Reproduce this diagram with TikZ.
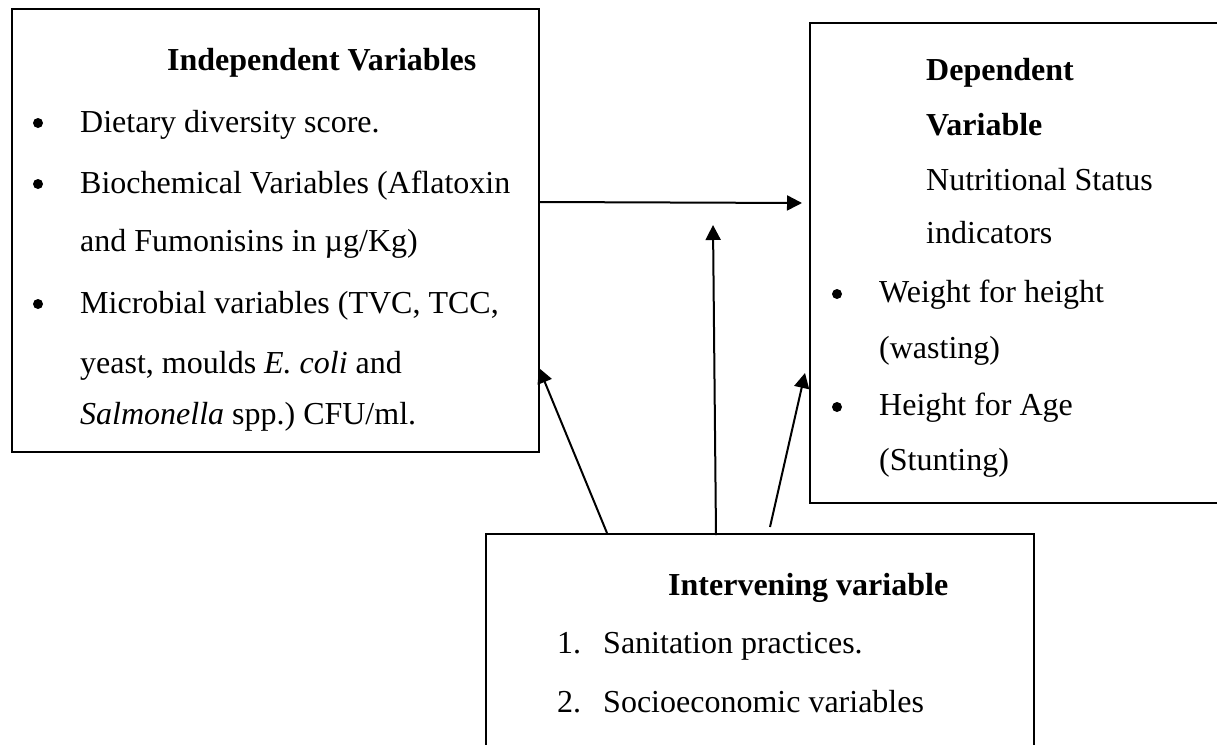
\documentclass[tikz,border=0pt]{standalone}
\usepackage{fontspec}
\setmainfont{Liberation Serif}
\usetikzlibrary{arrows.meta}
\begin{document}
\begin{tikzpicture}[x=1pt,y=-1pt,
  box/.style={draw,line width=2pt,rectangle,inner sep=0pt,anchor=north west},
  txt/.style={anchor=base west,inner sep=0pt,font=\fontsize{32}{38}\selectfont},
  conn/.style={line width=2pt,-{Triangle[length=15pt,width=15pt]}},
  dot/.style={circle,fill,inner sep=0pt,minimum size=10pt}]
\useasboundingbox (0,0) rectangle (1217,744);
% boxes
\node[box,minimum width=527pt,minimum height=443pt] (indep) at (11,8) {};
\node[box,minimum width=408pt,minimum height=480pt] (dep) at (809,22) {};
\node[box,minimum width=548pt,minimum height=240pt] (inter) at (485,533) {};
% independent box text
\node[txt] (ih) at (167,70) {\textbf{Independent Variables}};
\node[dot] (ib1) at (38,123) {};
\node[txt] (i1) at (80,132) {Dietary diversity score.};
\node[dot] (ib2) at (38,184) {};
\node[txt] (i2) at (80,193) {Biochemical Variables (Aflatoxin};
\node[txt] (i3) at (80,251) {and Fumonisins in µg/Kg)};
\node[dot] (ib3) at (38,304) {};
\node[txt] (i4) at (80,313) {Microbial variables (TVC, TCC,};
\node[txt] (i5) at (80,373) {yeast, moulds \textit{E.\ coli} and};
\node[txt] (i6) at (80,424) {\textit{Salmonella} spp.)\ CFU/ml.};
% dependent box text
\node[txt] (dh1) at (926,80) {\textbf{Dependent}};
\node[txt] (dh2) at (926,135) {\textbf{Variable}};
\node[txt] (d1) at (926,190) {Nutritional Status};
\node[txt] (d2) at (926,243) {indicators};
\node[dot] (db1) at (837,294) {};
\node[txt] (d3) at (879,302) {Weight for height};
\node[txt] (d4) at (879,358) {(wasting)};
\node[dot] (db2) at (837,407) {};
\node[txt] (d5) at (879,415) {Height for Age};
\node[txt] (d6) at (879,470) {(Stunting)};
% intervening box text
\node[txt] (nh) at (668,595) {\textbf{Intervening variable}};
\node[txt] (n1n) at (557,653) {1.};
\node[txt] (n1) at (603,653) {Sanitation practices.};
\node[txt] (n2n) at (557,712) {2.};
\node[txt] (n2) at (603,712) {Socioeconomic variables};
% connector end points
\coordinate (h0) at (540,202);
\coordinate (h1) at (802,203);
\coordinate (m0) at (716,535);
\coordinate (m1) at (713,225);
\coordinate (l0) at (607,533);
\coordinate (l1) at (539,368);
\coordinate (r0) at (770,527);
\coordinate (r1) at (805,373);
\draw[conn] (h0) -- (h1);
\draw[conn] (m0) -- (m1);
\draw[conn] (l0) -- (l1);
\draw[conn] (r0) -- (r1);
\end{tikzpicture}
\end{document}
